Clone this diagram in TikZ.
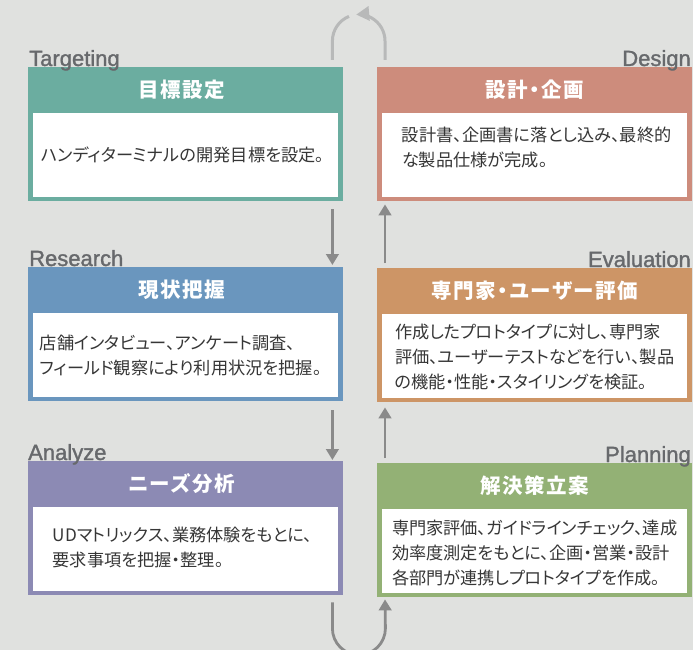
\documentclass[tikz,border=0pt]{standalone}
\usepackage{fontspec}
\setmainfont{Liberation Sans}
\newfontfamily\lblfont{Liberation Sans}[FakeBold=1.4]
\newfontfamily\jp{Noto Sans CJK JP}[RawFeature=+palt]
\newfontfamily\jptitle{Noto Sans CJK JP}[RawFeature=+palt,LetterSpace=8]
\usetikzlibrary{arrows.meta,calc}
\definecolor{bg}{HTML}{E0E1DF}
\definecolor{cTgt}{HTML}{6BADA0}
\definecolor{cRes}{HTML}{6A96BE}
\definecolor{cAna}{HTML}{8C8AB4}
\definecolor{cDes}{HTML}{CD8C7C}
\definecolor{cEva}{HTML}{CD9566}
\definecolor{cPln}{HTML}{93B175}
\definecolor{lbl}{HTML}{67696C}
\definecolor{arr}{HTML}{8A8A8A}
\definecolor{arrl}{HTML}{B8B9B9}
\definecolor{txt}{HTML}{363636}
\tikzset{
  stage/.style={anchor=north west, inner sep=0pt, minimum width=315pt, minimum height=134pt, fill=#1},
  ttl/.style={text=white, font=\jptitle\bfseries\fontsize{20.5}{24}\selectfont, inner sep=0pt},
  body/.style={text=txt, font=\jp\fontsize{17.2}{25}\selectfont, align=left, inner sep=0pt},
  phase/.style={text=lbl, font=\lblfont\fontsize{22}{26}\selectfont, inner sep=0pt},
  flow/.style={draw=arr, line width=2.8pt, -{Triangle[width=12.5pt,length=11pt]}},
  flowl/.style={draw=arrl, line width=3pt},
  flowla/.style={flowl, -{Triangle[width=14pt,length=13pt]}}
}
\begin{document}
\begin{tikzpicture}[x=1pt,y=-1pt]
\fill[bg] (0,0) rectangle (693,650);
\useasboundingbox (0,0) rectangle (693,650);
% boxes
\node[stage=cTgt] (tgt) at (28,67) {};
\node[stage=cRes] (res) at (28,267) {};
\node[stage=cAna] (ana) at (28,461) {};
\node[stage=cDes] (des) at (377,67) {};
\node[stage=cEva] (eva) at (377,268) {};
\node[stage=cPln] (pln) at (377,463) {};
\foreach \n in {tgt,res,ana,des,eva,pln}{
  \fill[white] ([xshift=5pt,yshift=-46pt]\n.north west) rectangle ([xshift=-5pt,yshift=4pt]\n.south east);
}
% titles
\node[ttl] (tgtT) at ([xshift=-4pt,yshift=-23pt]tgt.north) {目標設定};
\node[ttl] (resT) at ([xshift=-4pt,yshift=-23pt]res.north) {現状把握};
\node[ttl] (anaT) at ([xshift=-4pt,yshift=-23pt]ana.north) {ニーズ分析};
\node[ttl] (desT) at ([yshift=-23pt]des.north) {設計・企画};
\node[ttl] (evaT) at ([yshift=-23pt]eva.north) {専門家・ユーザー評価};
\node[ttl] (plnT) at ([yshift=-23pt]pln.north) {解決策立案};
% bodies
\node[body] (tgtB) at ([xshift=-3pt,yshift=-88pt]tgt.north) {ハンディターミナルの開発目標を設定。};
\node[body] (resB) at ([xshift=-5pt,yshift=-88pt]res.north) {店舗インタビュー、アンケート調査、\\フィールド観察により利用状況を把握。};
\node[body] (anaB) at ([xshift=-3pt,yshift=-86pt]ana.north) {UDマトリックス、業務体験をもとに、\\要求事項を把握・整理。};
\node[body] (desB) at ([xshift=2pt,yshift=-80pt]des.north) {設計書、企画書に落とし込み、最終的\\な製品仕様が完成。};
\node[body] (evaB) at ([yshift=-89pt]eva.north) {作成したプロトタイプに対し、専門家\\評価、ユーザーテストなどを行い、製品\\の機能・性能・スタイリングを検証。};
\node[body] (plnB) at ([yshift=-90pt]pln.north) {専門家評価、ガイドラインチェック、達成\\効率度測定をもとに、企画・営業・設計\\各部門が連携しプロトタイプを作成。};
% phase labels
\node[phase, anchor=base west] (tgtL) at (29,66) {Targeting};
\node[phase, anchor=base west] (resL) at (29,266) {Research};
\node[phase, anchor=base west] (anaL) at (28,460) {Analyze};
\node[phase, anchor=base east] (desL) at (691,66) {Design};
\node[phase, anchor=base east] (evaL) at (691,267) {Evaluation};
\node[phase, anchor=base east] (plnL) at (691,462) {Planning};
% connectors
\draw[flow] ([xshift=-11pt,yshift=-8pt]tgt.south east) -- ([xshift=-11pt,yshift=2pt]res.north east);
\draw[flow] ([xshift=-11pt,yshift=-9pt]res.south east) -- ([xshift=-11pt,yshift=1pt]ana.north east);
\draw[flow] ([xshift=-11pt,yshift=-7pt]ana.south east) -- ++(0,26) arc[start angle=180,end angle=360,radius=26.5pt] -- ([xshift=8pt,yshift=-2pt]pln.south west);
\draw[flow] ([xshift=8pt,yshift=5pt]pln.north west) -- ([xshift=8pt,yshift=-5pt]eva.south west);
\draw[flow] ([xshift=8pt,yshift=5pt]eva.north west) -- ([xshift=8pt,yshift=-3pt]des.south west);
\draw[flowla] ([xshift=8pt,yshift=7pt]des.north west) -- ++(0,-19) arc[start angle=0,end angle=95,radius=26.5pt];
\draw[flowl] ([xshift=-11pt,yshift=7pt]tgt.north east) -- ++(0,-19) arc[start angle=180,end angle=112,radius=26.5pt];
\end{tikzpicture}
\end{document}
